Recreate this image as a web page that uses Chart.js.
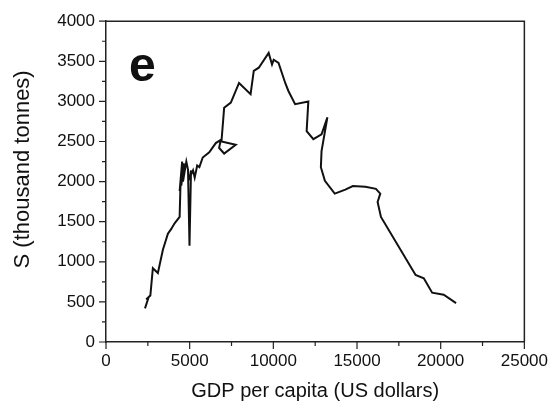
<!DOCTYPE html>
<html>
<head>
<meta charset="utf-8">
<script src="https://cdn.jsdelivr.net/npm/chart.js@4"></script>
<style>
html,body{margin:0;padding:0;background:#fff;}
#wrap{width:557px;height:409px;position:relative;}
</style>
</head>
<body>
<div id="wrap"><canvas id="c" width="557" height="409"></canvas></div>
<script>
const gdpPerCapita = [2330, 2550, 2400, 2650, 2800, 3100, 3400, 3700, 3900, 4100, 4400, 4450, 4400, 4550, 4500, 4650, 4600, 4800, 4900, 4990, 5080, 5000, 5200, 5300, 5450, 5580, 5780, 6170, 6560, 6860, 6760, 7060, 7750, 6900, 7060, 7460, 7950, 8640, 8830, 9130, 9720, 9920, 10020, 10310, 10710, 10900, 11300, 12090, 11990, 12390, 12880, 13230, 12880, 12840, 13080, 13670, 14300, 14750, 15500, 16130, 16390, 16230, 16430, 18500, 18990, 19490, 20180, 20920];
const sulphur = [420, 560, 530, 580, 920, 860, 1150, 1350, 1410, 1480, 1560, 1950, 1880, 2250, 1950, 2230, 2000, 2250, 2150, 1200, 2140, 2050, 2140, 2050, 2200, 2180, 2300, 2365, 2480, 2520, 2420, 2350, 2460, 2500, 2920, 2985, 3230, 3090, 3380, 3420, 3605, 3460, 3520, 3480, 3230, 3130, 2965, 3000, 2630, 2530, 2590, 2800, 2380, 2180, 2010, 1850, 1900, 1945, 1935, 1910, 1850, 1745, 1560, 835, 795, 615, 590, 485];
const xTicks = [0, 5000, 10000, 15000, 20000, 25000];
const yTicks = [0, 500, 1000, 1500, 2000, 2500, 3000, 3500, 4000];
const panelLabel = 'e';
const xTitle = 'GDP per capita (US dollars)';
const yTitle = '    S (thousand tonnes)';

const points = gdpPerCapita.map((g, i) => ({x: g, y: sulphur[i]}));

const tickPlugin = {
  id: 'ticksAndFrame',
  afterDraw(chart) {
    const ctx = chart.ctx;
    const xs = chart.scales.x, ys = chart.scales.y;
    const a = chart.chartArea;
    ctx.save();
    ctx.strokeStyle = '#222';
    ctx.lineWidth = 1.5;
    ctx.beginPath();
    ctx.moveTo(a.left, a.top); ctx.lineTo(a.right, a.top); ctx.lineTo(a.right, a.bottom);
    ctx.stroke();
    ctx.lineWidth = 1.2;
    ctx.beginPath();
    for (let v = xs.min; v <= xs.max; v += 2500) {
      const px = xs.getPixelForValue(v);
      const len = (v % 5000 === 0) ? 7 : 4;
      ctx.moveTo(px, a.bottom); ctx.lineTo(px, a.bottom + len);
    }
    for (let v = ys.min; v <= ys.max; v += 250) {
      const py = ys.getPixelForValue(v);
      const len = (v % 500 === 0) ? 7 : 4;
      ctx.moveTo(a.left, py); ctx.lineTo(a.left - len, py);
    }
    ctx.stroke();
    ctx.fillStyle = '#111';
    ctx.font = 'bold 48px "Liberation Sans", Arial, sans-serif';
    ctx.textAlign = 'left';
    ctx.textBaseline = 'alphabetic';
    ctx.fillText(panelLabel, a.left + 23, a.top + 60);
    ctx.restore();
  }
};

new Chart(document.getElementById('c'), {
  type: 'scatter',
  data: {
    datasets: [{
      data: points,
      showLine: true,
      borderColor: '#111',
      borderWidth: 2,
      pointRadius: 0,
      pointHoverRadius: 0,
      tension: 0,
      fill: false
    }]
  },
  options: {
    responsive: false,
    animation: false,
    events: [],
    layout: {padding: {left: 0, top: 20, right: 29, bottom: 0}},
    plugins: {legend: {display: false}, tooltip: {enabled: false}},
    scales: {
      x: {
        type: 'linear', min: 0, max: 25000,
        afterBuildTicks: s => { s.ticks = xTicks.map(v => ({value: v})); },
        afterFit: s => { s.height = 67; },
        grid: {display: false, drawTicks: false},
        border: {display: true, color: '#222', width: 1.5},
        ticks: {
          color: '#111', padding: 9, maxRotation: 0, autoSkip: false,
          callback: v => String(v),
          font: {family: '"Liberation Sans", Arial, sans-serif', size: 17}
        },
        title: {
          display: true, text: xTitle, color: '#111',
          font: {family: '"Liberation Sans", Arial, sans-serif', size: 20},
          padding: {top: 0, bottom: 6}
        }
      },
      y: {
        type: 'linear', min: 0, max: 4000,
        afterBuildTicks: s => { s.ticks = yTicks.map(v => ({value: v})); },
        afterFit: s => { s.width = 106; },
        grid: {display: false, drawTicks: false},
        border: {display: true, color: '#222', width: 1.5},
        ticks: {
          color: '#111', padding: 11, autoSkip: false,
          callback: v => String(v),
          font: {family: '"Liberation Sans", Arial, sans-serif', size: 17}
        },
        title: {
          display: true, text: yTitle, color: '#111',
          font: {family: '"Liberation Sans", Arial, sans-serif', size: 22},
          padding: {top: 10, bottom: 0}
        }
      }
    }
  },
  plugins: [tickPlugin]
});
</script>
</body>
</html>
